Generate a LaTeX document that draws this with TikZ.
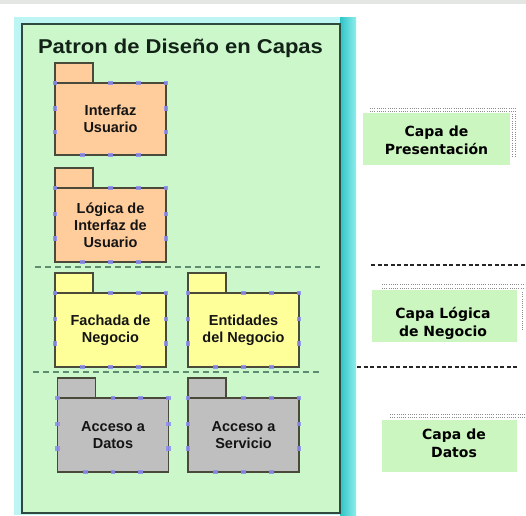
\documentclass[tikz,border=0pt]{standalone}
\usepackage{fontspec}
\setmainfont{Liberation Sans}
\newfontfamily\lblfont{DejaVu Sans}
\usetikzlibrary{calc}
\definecolor{peach}{HTML}{FFCC9C}
\definecolor{pkgyellow}{HTML}{FFFF99}
\definecolor{pkggray}{HTML}{BFBFBF}
\definecolor{bggreen}{HTML}{CBF7CB}
\definecolor{lblgreen}{HTML}{CCF6C0}
\definecolor{framecyan}{HTML}{BDF5F5}
\definecolor{framedark}{HTML}{2EC4C6}
\definecolor{framelight}{HTML}{8FEDED}
\definecolor{innerborder}{HTML}{2E4A3E}
\definecolor{pkgline}{HTML}{4A4A3A}
\definecolor{handleblue}{HTML}{8C8CF2}
\definecolor{sepgreen}{HTML}{5E8C6E}
\definecolor{titlecol}{HTML}{122216}
\definecolor{topgray}{HTML}{E4E6E4}
\tikzset{
  pkgbody/.style={draw=pkgline, line width=1.4pt, inner sep=0pt, outer sep=0pt,
    minimum width=111pt, minimum height=74pt, align=center,
    font=\fontsize{14.5}{17}\selectfont\bfseries, text=black!92},
  pkgtab/.style={draw=pkgline, line width=1.4pt, inner sep=0pt, outer sep=0pt,
    minimum width=38pt, minimum height=20pt, anchor=south west},
  handle/.style={fill=handleblue, opacity=0.85},
  innersep/.style={draw=sepgreen, line width=1.5pt, dash pattern=on 6pt off 4pt},
  layersep/.style={draw=black!85, line width=1.8pt, dash pattern=on 4pt off 2.5pt},
  lblbox/.style={fill=lblgreen, inner sep=0pt, outer sep=0pt},
  lbltext/.style={align=center, font=\lblfont\fontsize{14}{18}\selectfont\bfseries, text=black},
  dotline/.style={draw=black!45, line width=0.7pt, dash pattern=on 0.8pt off 1.4pt}
}
\newcommand\pkghandles[1]{%
  \foreach \p in {0,0.5,0.75,1}{\fill[handle] ($(#1.north west)!\p!(#1.north east)$) +(-2.3,-2.3) rectangle +(2.3,2.3);}
  \foreach \p in {0.25,0.5,0.75}{\fill[handle] ($(#1.south west)!\p!(#1.south east)$) +(-2.3,-2.3) rectangle +(2.3,2.3);}
  \foreach \p in {0.35,0.68}{%
    \fill[handle] ($(#1.north west)!\p!(#1.south west)$) +(-2.3,-2.3) rectangle +(2.3,2.3);
    \fill[handle] ($(#1.north east)!\p!(#1.south east)$) +(-2.3,-2.3) rectangle +(2.3,2.3);}
}
\begin{document}
\begin{tikzpicture}[x=1pt,y=-1pt]
\useasboundingbox (0,0) rectangle (526,515);
\fill[white] (0,0) rectangle (526,515);
\fill[topgray] (0,0) rectangle (526,4);
% frame
\fill[framecyan] (14,17) rectangle (356,515);
\shade[left color=framedark, right color=framelight] (340,17) rectangle (356,515);
\draw[fill=bggreen, draw=innerborder, line width=2pt] (22,24) rectangle (340,513);
% title
\node[font=\fontsize{20}{24}\selectfont\bfseries, text=titlecol, anchor=base] (title) at (180.5,53) {\scalebox{1.1}[1]{Patron de Diseño en Capas}};
% packages
\node[pkgbody, fill=peach, minimum height=72pt] (iu) at (110.5,119) {Interfaz\\Usuario};
\node[pkgtab, fill=peach] (iutab) at (iu.north west) {};
\node[pkgbody, fill=peach] (liu) at (110.5,225) {Lógica de\\Interfaz de\\Usuario};
\node[pkgtab, fill=peach] (liutab) at (liu.north west) {};
\node[pkgbody, fill=pkgyellow] (fn) at (110.5,330) {Fachada de\\Negocio};
\node[pkgtab, fill=pkgyellow] (fntab) at (fn.north west) {};
\node[pkgbody, fill=pkgyellow] (en) at (243.5,330) {Entidades\\del Negocio};
\node[pkgtab, fill=pkgyellow] (entab) at (en.north west) {};
\node[pkgbody, fill=pkggray] (ad) at (113,435) {Acceso a\\Datos};
\node[pkgtab, fill=pkggray] (adtab) at (ad.north west) {};
\node[pkgbody, fill=pkggray] (as) at (243.5,435) {Acceso a\\Servicio};
\node[pkgtab, fill=pkggray] (astab) at (as.north west) {};
\pkghandles{iu}\pkghandles{liu}\pkghandles{fn}\pkghandles{en}\pkghandles{ad}\pkghandles{as}
% inner separators
\draw[innersep] (35,267) -- (320,267);
\draw[innersep] (33,372) -- (320,372);
% right layer separators
\draw[layersep] (371,265) -- (526,265);
\draw[layersep] (357,367) -- (517,367);
% layer labels
\draw[dotline] (370,108) -- (516,108);
\draw[dotline] (370,111) -- (516,111);
\draw[dotline] (512,114) -- (512,157);
\draw[dotline] (515,114) -- (515,157);
\node[lblbox, minimum width=147pt, minimum height=52pt] (pbox) at (436.5,139) {};
\node[lbltext] (ptext) at (436.5,140.7) {Capa de\\Presentación};
\draw[dotline] (382,284) -- (525,284);
\draw[dotline] (382,288) -- (525,288);
\draw[dotline] (522,292) -- (522,330);
\node[lblbox, minimum width=145pt, minimum height=52pt] (nbox) at (444.5,316) {};
\node[lbltext] (ntext) at (443,323) {Capa Lógica\\de Negocio};
\draw[dotline] (390,414) -- (526,414);
\draw[dotline] (390,417) -- (526,417);
\node[lblbox, minimum width=135pt, minimum height=52pt] (dbox) at (449.5,446) {};
\node[lbltext] (dtext) at (454,443.7) {Capa de\\Datos};
\end{tikzpicture}
\end{document}
